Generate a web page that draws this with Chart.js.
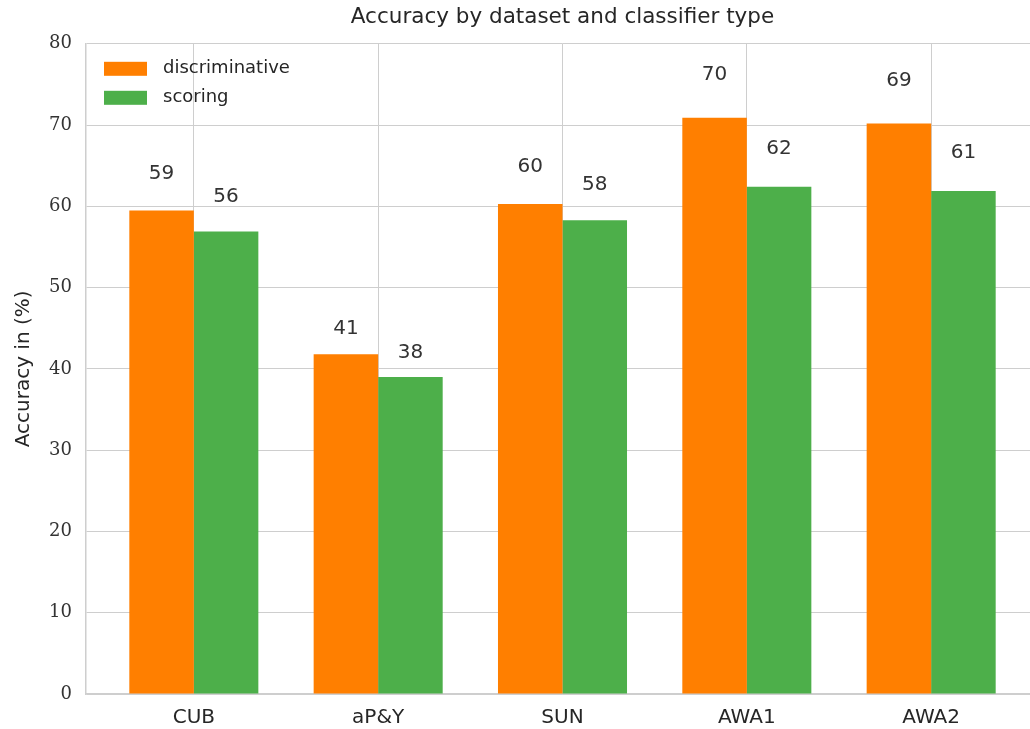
<!DOCTYPE html>
<html>
<head>
<meta charset="utf-8">
<script src="https://cdn.jsdelivr.net/npm/chart.js@4.4.1/dist/chart.umd.min.js"></script>
<style>
  html, body { margin: 0; padding: 0; background: #ffffff; overflow: hidden; }
  #wrap { width: 1040px; height: 729px; }
</style>
</head>
<body>
<div id="wrap"><canvas id="c" width="1040" height="729"></canvas></div>
<script>
const categories = ["CUB", "aP&Y", "SUN", "AWA1", "AWA2"];
const discriminative = [59.5, 41.8, 60.3, 70.9, 70.2];
const scoring = [56.9, 39.0, 58.3, 62.4, 61.9];
const discriminativeLabels = ["59", "41", "60", "70", "69"];
const scoringLabels = ["56", "38", "58", "62", "61"];
const yTicks = [0, 10, 20, 30, 40, 50, 60, 70, 80];

const ORANGE = "#ff7f00";
const GREEN = "#4daf4a";
const GRID = "#cecece";
const TEXT = "#262626";
const SANS = "'DejaVu Sans', sans-serif";

const valueLabels = {
  id: "valueLabels",
  afterDatasetsDraw(chart) {
    const ctx = chart.ctx;
    const ys = chart.scales.y;
    ctx.save();
    ctx.font = "20px " + SANS;
    ctx.fillStyle = "#333333";
    ctx.textAlign = "center";
    ctx.textBaseline = "middle";
    chart.data.datasets.forEach((ds, di) => {
      const meta = chart.getDatasetMeta(di);
      meta.data.forEach((bar, i) => {
        const v = ds.data[i].y;
        ctx.fillText(ds.valueLabels[i], bar.x, ys.getPixelForValue(v * 1.075));
      });
    });
    ctx.restore();
  }
};

const innerLegend = {
  id: "innerLegend",
  afterDatasetsDraw(chart) {
    const ctx = chart.ctx;
    const a = chart.chartArea;
    ctx.save();
    ctx.font = "18px " + SANS;
    ctx.textAlign = "left";
    ctx.textBaseline = "middle";
    chart.data.datasets.forEach((ds, i) => {
      const cy = a.top + 25 + i * 29;
      ctx.fillStyle = ds.backgroundColor;
      ctx.fillRect(a.left + 18, cy - 7, 43, 14);
      ctx.fillStyle = TEXT;
      ctx.fillText(ds.label, a.left + 77, cy);
    });
    ctx.restore();
  }
};

new Chart(document.getElementById("c"), {
  type: "bar",
  data: {
    datasets: [
      {
        label: "discriminative",
        data: discriminative.map((v, i) => ({ x: i, y: v })),
        valueLabels: discriminativeLabels,
        backgroundColor: ORANGE,
        borderWidth: 0,
        categoryPercentage: 0.7,
        barPercentage: 1.0
      },
      {
        label: "scoring",
        data: scoring.map((v, i) => ({ x: i, y: v })),
        valueLabels: scoringLabels,
        backgroundColor: GREEN,
        borderWidth: 0,
        categoryPercentage: 0.7,
        barPercentage: 1.0
      }
    ]
  },
  options: {
    responsive: false,
    animation: false,
    layout: { padding: { left: 0, right: 1, top: 0, bottom: 0 } },
    plugins: {
      legend: { display: false },
      tooltip: { enabled: false },
      title: {
        display: true,
        fullSize: false,
        text: "Accuracy by dataset and classifier type",
        color: TEXT,
        font: { family: SANS, size: 21.5, weight: "normal" },
        padding: { top: 5, bottom: 13 }
      }
    },
    scales: {
      x: {
        type: "linear",
        offset: false,
        min: -0.585,
        max: 4.585,
        afterBuildTicks(scale) {
          scale.ticks = categories.map((_, i) => ({ value: i }));
        },
        afterFit(scale) { scale.height = 35; },
        ticks: {
          autoSkip: false,
          maxRotation: 0,
          padding: 12,
          color: TEXT,
          font: { family: SANS, size: 20 },
          callback: (v) => categories[v]
        },
        grid: { offset: false, color: GRID, lineWidth: 1, drawTicks: false, tickLength: 0 },
        border: { color: GRID, width: 1.5 }
      },
      y: {
        min: 0,
        max: 80,
        afterBuildTicks(scale) {
          scale.ticks = yTicks.map((v) => ({ value: v }));
        },
        afterFit(scale) { scale.width = 86; },
        ticks: {
          padding: 14,
          color: "#333333",
          font: { family: "'DejaVu Serif', serif", size: 18 }
        },
        grid: { color: GRID, lineWidth: 1, drawTicks: false, tickLength: 0 },
        border: { color: GRID, width: 1.5 },
        title: {
          display: true,
          text: "Accuracy in (%)",
          color: TEXT,
          font: { family: SANS, size: 20 },
          padding: { top: 12, bottom: 0 }
        }
      }
    }
  },
  plugins: [valueLabels, innerLegend]
});
</script>
</body>
</html>
